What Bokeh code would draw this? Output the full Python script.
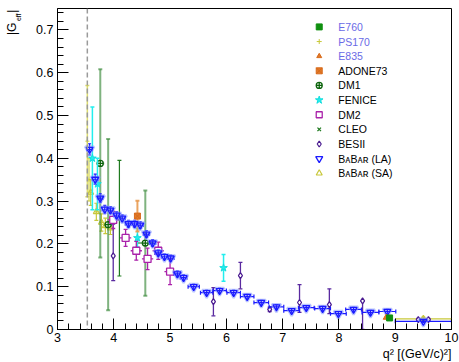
import numpy as np
from bokeh.plotting import figure
from bokeh.models import Span, SingleIntervalTicker, FixedTicker, ColumnDataSource, LinearAxis, Title
from bokeh.core.properties import value
from bokeh.embed import file_html
from bokeh.resources import INLINE

# ---------------- data: |G_eff| versus q^2 [(GeV/c)^2] ----------------
# BaBar (large angle)
babar_la_q2 = [3.57, 3.67, 3.76, 3.84, 3.94, 4.05, 4.15, 4.26, 4.37, 4.47, 4.58, 4.69,
               4.79, 4.90, 5.01, 5.13, 5.24, 5.42, 5.65, 5.88, 6.13, 6.37, 6.62, 6.89,
               7.16, 7.42, 7.71, 7.99, 8.26, 8.56, 8.86, 9.50]
babar_la_g = [0.421, 0.351, 0.307, 0.281, 0.279, 0.267, 0.260, 0.247, 0.247, 0.244, 0.223, 0.202,
              0.179, 0.170, 0.167, 0.130, 0.121, 0.100, 0.086, 0.091, 0.086, 0.077, 0.063, 0.053,
              0.044, 0.051, 0.049, 0.037, 0.047, 0.040, 0.042, 0.019]
babar_la_dg = [0.013, 0.012, 0.010, 0.009, 0.008, 0.008, 0.008, 0.008, 0.008, 0.008, 0.008, 0.008,
               0.007, 0.007, 0.007, 0.007, 0.007, 0.006, 0.006, 0.006, 0.006, 0.005, 0.005, 0.005,
               0.005, 0.005, 0.005, 0.005, 0.005, 0.005, 0.005, 0.003]
babar_la_dq2 = [0.05, 0.05, 0.045, 0.045, 0.05, 0.05, 0.055, 0.055, 0.055, 0.055, 0.055, 0.055,
                0.055, 0.055, 0.06, 0.06, 0.06, 0.10, 0.11, 0.12, 0.12, 0.12, 0.13, 0.13,
                0.14, 0.14, 0.14, 0.14, 0.14, 0.15, 0.15, 0.50]

# BaBar (small angle)
babar_sa_q2 = [3.59, 3.69, 3.78, 3.85, 3.94, 9.50]
babar_sa_g = [0.320, 0.275, 0.250, 0.242, 0.237, 0.025]
babar_sa_dg = [0.030, 0.020, 0.020, 0.018, 0.015, 0.004]
babar_sa_dq2 = [0.02, 0.03, 0.03, 0.03, 0.04, 0.50]

# PS170
ps170_q2 = [3.53, 3.56]
ps170_g = [0.440, 0.350]
ps170_dg = [0.130, 0.050]

# E760 / E835
e760_q2 = [8.90]
e760_g = [0.027]
e835_q2 = [8.84]
e835_g = [0.028]

# ADONE73
adone_q2 = [4.42]
adone_g = [0.265]
adone_dg = [0.036]

# DM1
dm1_q2 = [3.76, 3.90, 4.56]
dm1_g = [0.388, 0.245, 0.202]
dm1_dg = [0.220, 0.200, 0.123]
dm1_dq2 = [0.07, 0.07, 0.15]

# CLEO
cleo_q2 = [4.10]
cleo_g = [0.260]
cleo_dg = [0.135]

# FENICE
fenice_q2 = [3.62, 3.71, 4.42, 5.95]
fenice_g = [0.400, 0.340, 0.214, 0.144]
fenice_dg = [0.120, 0.060, 0.022, 0.031]

# DM2
dm2_q2 = [3.99, 4.21, 4.40, 4.60, 4.79, 5.00]
dm2_g = [0.256, 0.214, 0.184, 0.165, 0.184, 0.135]
dm2_dg = [0.020, 0.020, 0.022, 0.025, 0.020, 0.030]
dm2_dq2 = [0.10, 0.10, 0.10, 0.10, 0.10, 0.10]

# BESII
besii_q2 = [3.99, 5.77, 6.25, 6.77, 7.30, 7.83, 8.42, 9.41, 9.59]
besii_g = [0.172, 0.065, 0.126, 0.047, 0.063, 0.058, 0.067, 0.023, 0.023]
besii_dg_lo = [0.058, 0.033, 0.031, 0.005, 0.023, 0.021, 0.067, 0.003, 0.003]
besii_dg_hi = [0.074, 0.033, 0.031, 0.005, 0.042, 0.037, 0.000, 0.003, 0.003]

threshold_q2 = 3.53

legend_labels = ["E760", "PS170", "E835", "ADONE73", "DM1", "FENICE", "DM2", "CLEO",
                 "BESII", "B\u1d00B\u1d00\u0280 (LA)", "B\u1d00B\u1d00\u0280 (SA)"]

x_title = "q\u00b2 [(GeV/c)\u00b2]"
# the centred y-axis labels are padded with no-break spaces so that the
# visible part of |G_eff| sits at the top end of the axis
NB = "\u00a0"
y_title_main = NB * 88 + "|G" + NB * 3 + "|"
y_title_sub = NB * 156 + "eff"

FONT = "Liberation Sans"

p = figure(width=459, height=362, x_range=(3, 10), y_range=(0, 0.75),
           output_backend="svg", toolbar_location=None,
           min_border_left=57, min_border_right=8, min_border_top=8, min_border_bottom=33)
p.xgrid.visible = False
p.ygrid.visible = False
p.outline_line_color = "black"
p.outline_line_width = 1
p.background_fill_color = "white"
p.border_fill_color = "white"

p.xaxis.ticker = SingleIntervalTicker(interval=1, num_minor_ticks=5)
p.yaxis.ticker = SingleIntervalTicker(interval=0.1, num_minor_ticks=5)
p.yaxis.major_label_overrides = {0: "0"}
for ax in (p.xaxis, p.yaxis):
    ax.axis_line_color = "black"
    ax.major_tick_line_color = "black"
    ax.minor_tick_line_color = "black"
    ax.major_tick_in = 11
    ax.major_tick_out = 0
    ax.minor_tick_in = 6
    ax.minor_tick_out = 0
    ax.major_label_text_font = FONT
    ax.major_label_text_font_size = "12.5px"
    ax.major_label_text_color = "black"
    ax.axis_label_text_font = FONT
    ax.axis_label_text_font_style = "normal"
    ax.axis_label_text_color = "black"
p.xaxis.major_label_standoff = 3
p.yaxis.major_label_standoff = 4

# x-axis title, right-aligned under the tick labels
p.add_layout(Title(text=x_title, align="right", text_font=FONT, text_font_size="12.5px",
                   text_font_style="normal", text_color="black", standoff=0, offset=0), "below")

# y-axis title |G_eff|: subscript on the ticked axis, "|G |" on a bare outer axis
p.yaxis.axis_label = y_title_sub
p.yaxis.axis_label_standoff = 11
p.yaxis.axis_label_text_font_size = "7px"

outer = LinearAxis(ticker=FixedTicker(ticks=[]), axis_line_color=None,
                   major_tick_out=0, major_tick_in=0, minor_tick_out=0, minor_tick_in=0,
                   major_label_standoff=0, axis_label=y_title_main,
                   axis_label_standoff=-6,
                   axis_label_text_font=FONT, axis_label_text_font_size="12px",
                   axis_label_text_font_style="normal", axis_label_text_color="black")
p.add_layout(outer, "left")

p.add_layout(Span(location=threshold_q2, dimension="height", line_color="#9a9a9a",
                  line_dash="5 3", line_width=1.5))


def errors(x, y, lo, hi, color, xerr=None, alpha=1.0, width=1.0, cap=4, xcap=0):
    x = np.asarray(x, float)
    y = np.asarray(y, float)
    lo = np.asarray(lo, float)
    hi = np.asarray(hi, float)
    p.segment(x0=x, y0=y - lo, x1=x, y1=y + hi, line_color=color, line_alpha=alpha, line_width=width)
    if cap:
        p.scatter(np.concatenate([x, x]), np.concatenate([y - lo, y + hi]), marker="dash",
                  size=cap, line_color=color, line_alpha=alpha, line_width=width)
    if xerr is not None:
        xe = np.asarray(xerr, float)
        p.segment(x0=x - xe, y0=y, x1=x + xe, y1=y, line_color=color, line_alpha=alpha, line_width=width)
        if xcap:
            p.scatter(np.concatenate([x - xe, x + xe]), np.concatenate([y, y]), marker="dash",
                      angle=np.pi / 2, size=xcap, line_color=color, line_alpha=alpha, line_width=width)


# PS170
errors(ps170_q2, ps170_g, ps170_dg, ps170_dg, "#d4d44a", alpha=0.8, width=1.5)
p.scatter(ps170_q2, ps170_g, marker="cross", size=4, line_color="#d4d44a")

# BaBar small angle
errors(babar_sa_q2, babar_sa_g, babar_sa_dg, babar_sa_dg, "#c8c83a", xerr=babar_sa_dq2, width=1.2)
p.scatter(babar_sa_q2, babar_sa_g, marker="triangle", size=6, line_color="#c8c83a",
          fill_color="white", fill_alpha=0.0, line_width=1.2)

# DM1
errors(dm1_q2, dm1_g, dm1_dg, dm1_dg, "#3a8a3a", xerr=dm1_dq2, alpha=0.65, width=2)
p.scatter(dm1_q2, dm1_g, marker="circle_cross", size=6, line_color="#0c640c",
          fill_color="white", line_width=1.3)

# CLEO
errors(cleo_q2, cleo_g, cleo_dg, cleo_dg, "#1f7a1f", width=1.2)
p.scatter(cleo_q2, cleo_g, marker="x", size=5, line_color="#1f7a1f", line_width=1.3)

# FENICE
errors(fenice_q2, fenice_g, fenice_dg, fenice_dg, "#22eeee", width=1.5)
p.scatter(fenice_q2, fenice_g, marker="star", size=8, line_color="#11dddd", fill_color="#22eeee")

# ADONE73
errors(adone_q2, adone_g, adone_dg, adone_dg, "#e89a50", width=2, alpha=0.9)
p.scatter(adone_q2, adone_g, marker="square_x", size=6, line_color="#d86a1a", fill_color="#e07a2a")

# BESII
errors(besii_q2, besii_g, besii_dg_lo, besii_dg_hi, "#5a2aa0", width=1.3)
p.scatter(besii_q2, besii_g, marker="diamond", size=6, line_color="#4a1a90",
          fill_color="white", line_width=1.2)

# DM2
errors(dm2_q2, dm2_g, dm2_dg, dm2_dg, "#aa22aa", xerr=dm2_dq2, width=1.3, xcap=0)
p.scatter(dm2_q2, dm2_g, marker="square", size=7, line_color="#aa22aa",
          fill_color="white", line_width=1.3)

# BaBar large angle
errors(babar_la_q2, babar_la_g, babar_la_dg, babar_la_dg, "#1a1aff", xerr=babar_la_dq2,
       width=1.2, cap=3, xcap=4)
p.scatter(babar_la_q2, babar_la_g, marker="inverted_triangle", size=9, line_color="#8a9cff",
          fill_alpha=0.0, line_width=2.5, line_alpha=0.6)
p.scatter(babar_la_q2, babar_la_g, marker="inverted_triangle", size=7, line_color="#1a1aff",
          fill_color="white", fill_alpha=0.0, line_width=1.3)

# E835 / E760
p.scatter(e835_q2, e835_g, marker="triangle", size=6, line_color="#e06a1a", fill_color="#e07a2a")
p.scatter(e760_q2, e760_g, marker="square", size=6, line_color="#109010", fill_color="#109010")

# ---------------- legend ----------------
LEG_X_MARK = 7.65
LEG_X_TEXT = 7.99
LEG_Y0 = 0.707
LEG_DY = 0.0342
rows = [LEG_Y0 - i * LEG_DY for i in range(len(legend_labels))]

legend_marks = [
    dict(marker="square", size=6, line_color="#109010", fill_color="#109010"),
    dict(marker="cross", size=5, line_color="#c8c83a", fill_color="#c8c83a"),
    dict(marker="triangle", size=5, line_color="#d86a1a", fill_color="#e07a2a"),
    dict(marker="square_x", size=6, line_color="#d86a1a", fill_color="#e07a2a"),
    dict(marker="circle_cross", size=6, line_color="#0c640c", fill_color="white", line_width=1.3),
    dict(marker="star", size=8, line_color="#11dddd", fill_color="#22eeee"),
    dict(marker="square", size=6, line_color="#aa22aa", fill_color="white", line_width=1.3),
    dict(marker="x", size=5, line_color="#1f7a1f", line_width=1.3),
    dict(marker="diamond", size=6, line_color="#4a1a90", fill_color="white", line_width=1.2),
    dict(marker="inverted_triangle", size=7, line_color="#1a1aff", fill_color="white", line_width=1.3),
    dict(marker="triangle", size=6, line_color="#c8c83a", fill_color="white", line_width=1.2),
]
for yy, style in zip(rows, legend_marks):
    p.scatter([LEG_X_MARK], [yy], **style)

text_colors = ["#6a6ae6"] * 3 + ["black"] * 8
leg_src = ColumnDataSource(dict(x=[LEG_X_TEXT] * len(rows), y=rows, t=legend_labels, c=text_colors))
p.text(x="x", y="y", text="t", text_color="c", source=leg_src, text_font=value(FONT),
       text_font_size=value("10.5px"), text_baseline="middle", text_align="left")

open("out.html", "w").write(file_html(p, INLINE))
